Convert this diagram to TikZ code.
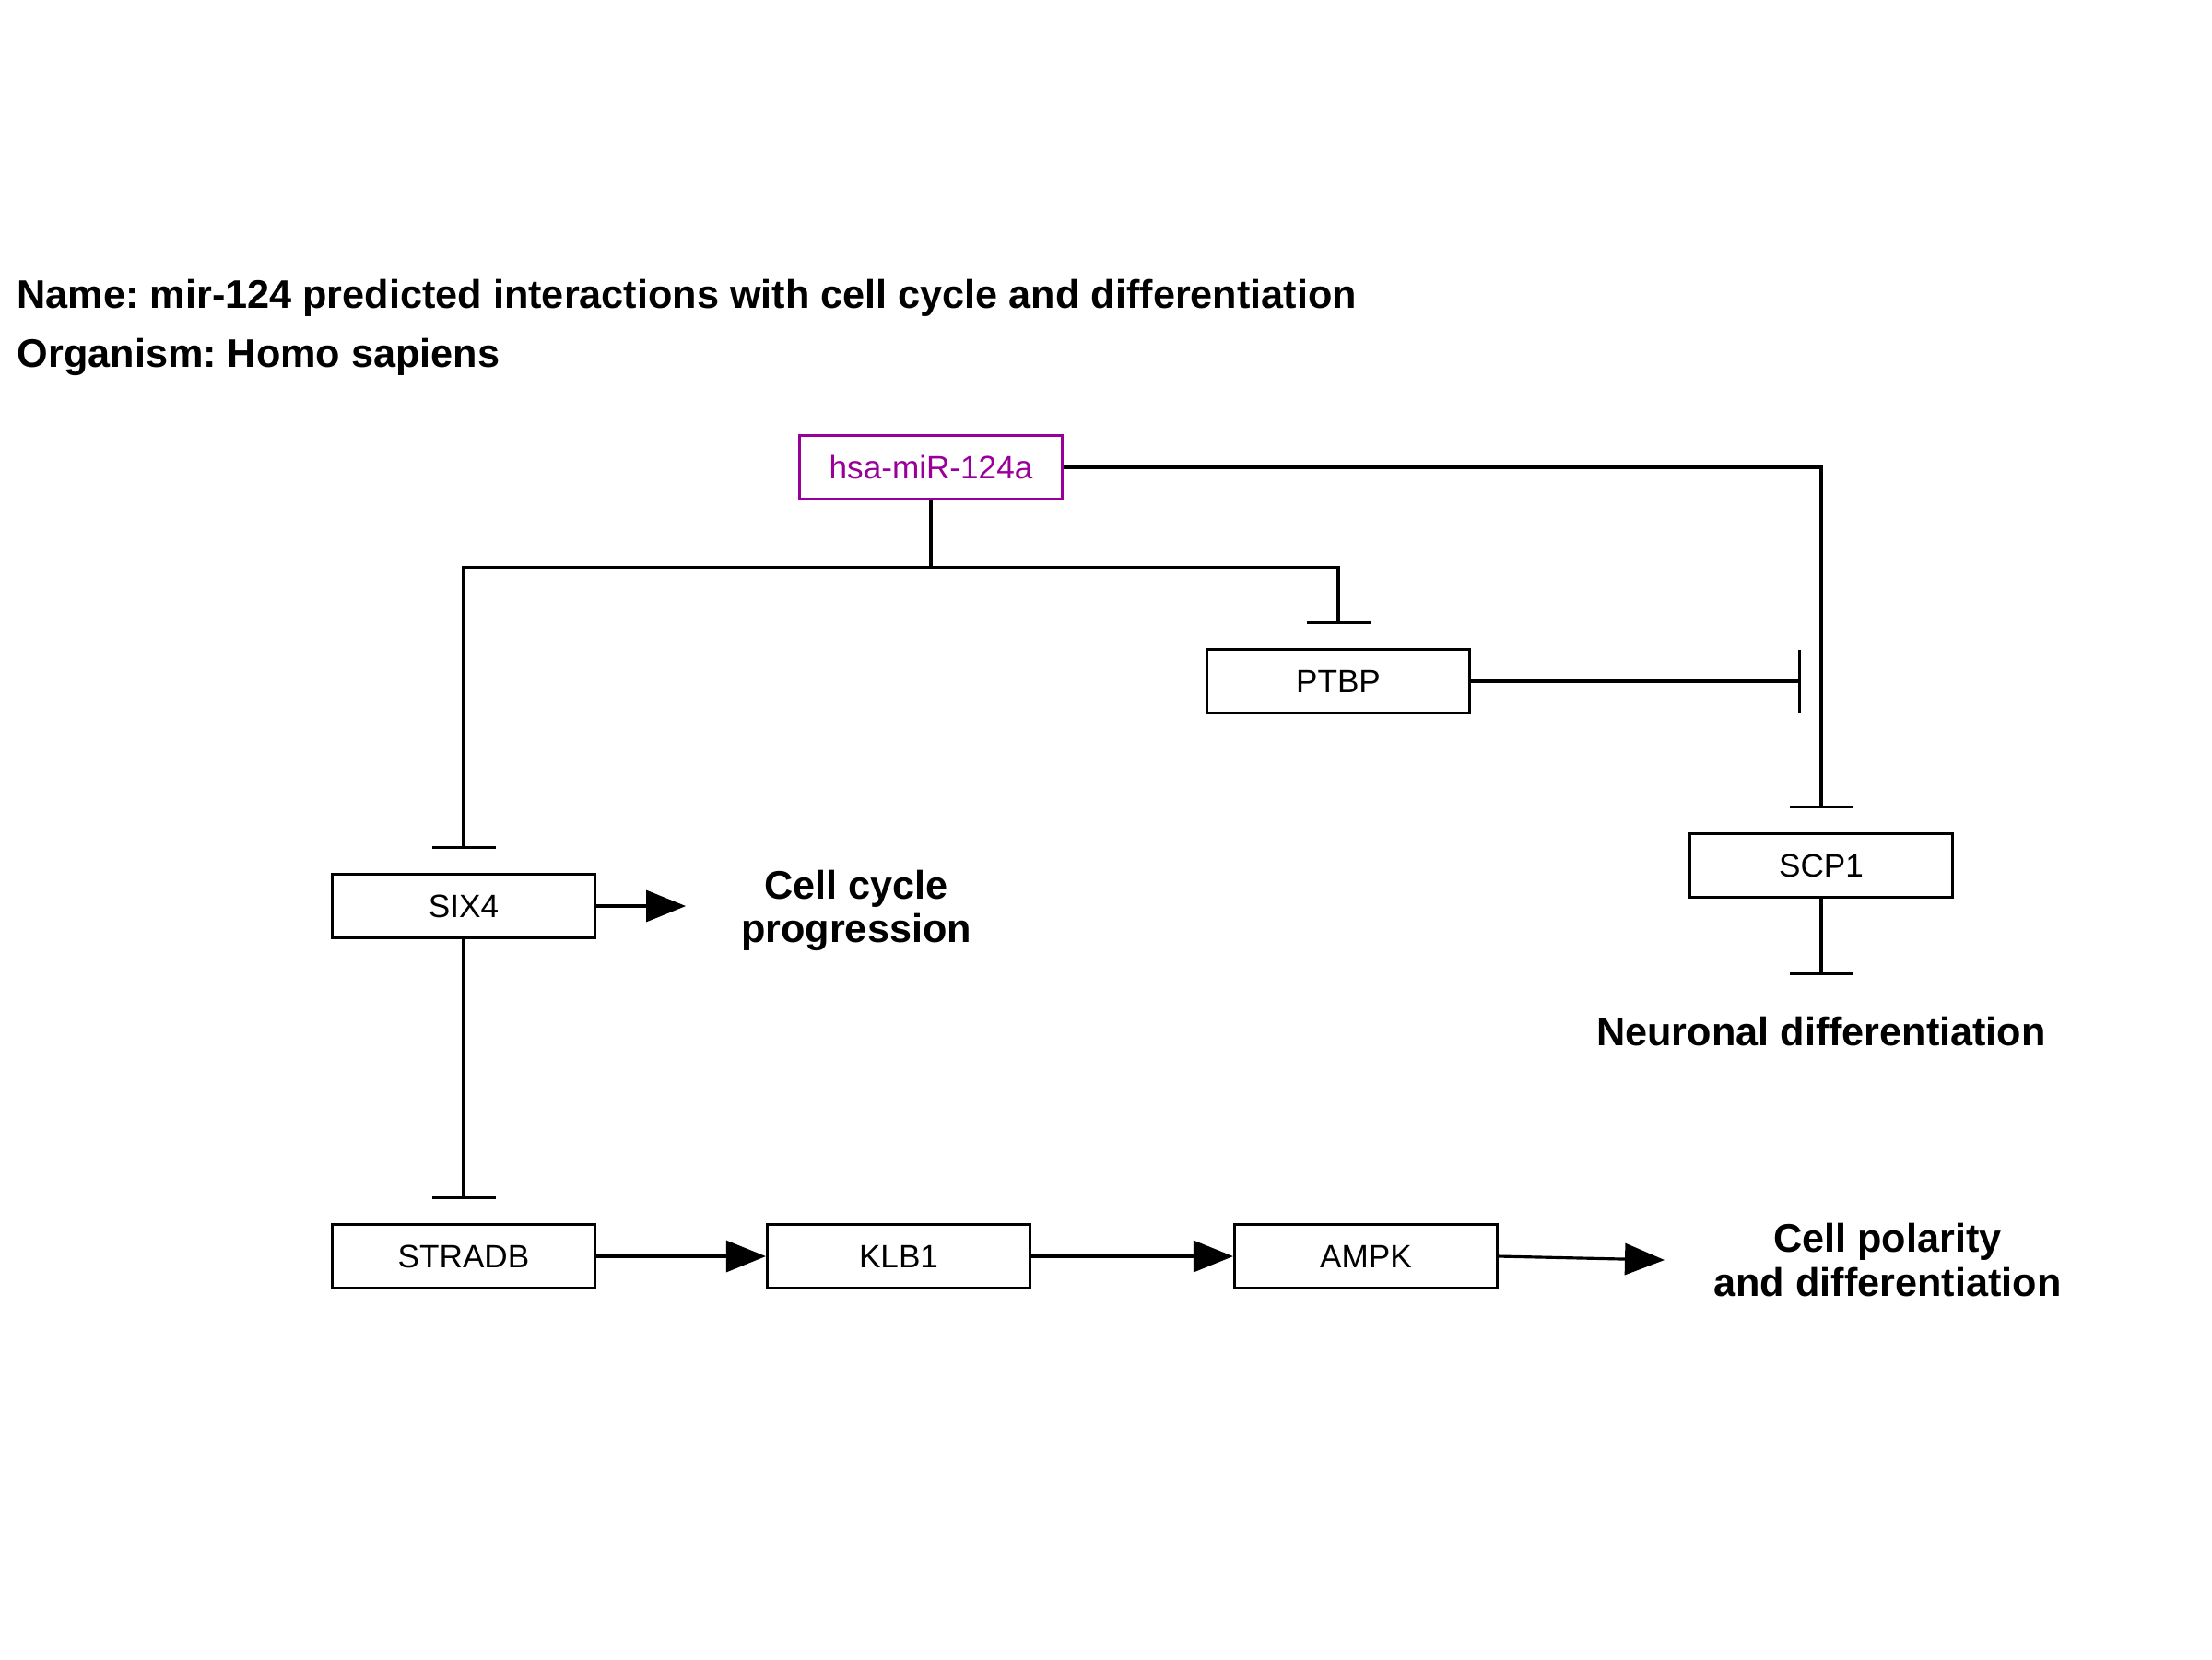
\documentclass[tikz,border=0pt]{standalone}
\usepackage{fontspec}
\setmainfont{Liberation Sans}
\usepackage{xcolor}
\usepackage{tikz}
\usetikzlibrary{arrows.meta, positioning, calc}
\definecolor{mirA}{HTML}{990099}
\frenchspacing
\tikzset{
  gene/.style={
    draw=black, fill=white, line width=0.9pt,
    minimum width=2.85cm, minimum height=0.69cm,
    inner sep=0pt, font=\fontsize{10}{12}\selectfont
  },
  mirna/.style={gene, draw=mirA, text=mirA},
  outcome/.style={align=center, font=\fontsize{12.3}{13.5}\selectfont\bfseries},
  title/.style={anchor=base west, inner sep=0pt, font=\fontsize{12.3}{14}\selectfont\bfseries},
  act/.style={-{Triangle[length=4.3mm, width=3.4mm]}, line width=0.9pt},
  inhib/.style={-{Bar[width=6.9mm]}, line width=0.9pt, shorten >=2.6mm}
}
\begin{document}
\begin{tikzpicture}
  \useasboundingbox (0,0) rectangle (24,-18);

  \node[title] (name) at (0.18,-3.34)
    {Name: mir-124 predicted interactions with cell cycle and differentiation};
  \node[title] (organism) at (0.18,-3.98) {Organism: Homo sapiens};

  \node[mirna] (mir) at (10.10,-5.07) {hsa-miR-124a};
  \node[gene] (ptbp) at (14.52,-7.39) {PTBP};
  \node[gene] (scp) at (19.76,-9.39) {SCP1};
  \node[gene] (six) at (5.03,-9.83) {SIX4};
  \node[gene] (stradb) at (5.03,-13.63) {STRADB};
  \node[gene] (klb) at (9.75,-13.63) {KLB1};
  \node[gene] (ampk) at (14.82,-13.63) {AMPK};

  \node[outcome] (cycle) at (9.29,-9.88) {Cell cycle\\progression};
  \node[outcome] (neuro) at (19.76,-11.19) {Neuronal differentiation};
  \node[outcome] (polar) at (20.48,-13.67) {Cell polarity\\and differentiation};

  \coordinate (split) at ($(mir.south)+(0,-0.72)$);
  \coordinate (ptbpend) at ($(ptbp.east)+(3.58,0)$);
  \coordinate (sixend) at ($(six.east)+(0.97,0)$);
  \coordinate (scpend) at ($(scp.south)+(0,-0.83)$);
  \coordinate (ampkend) at (18.06,-13.67);

  \draw[line width=0.9pt] (mir.south) -- (split);
  \draw[inhib] (split) -| (six.north);
  \draw[inhib] (split) -| (ptbp.north);
  \draw[inhib] (mir.east) -| (scp.north);
  \draw[-{Bar[width=6.9mm]}, line width=0.9pt] (ptbp.east) -- (ptbpend);
  \draw[-{Bar[width=6.9mm]}, line width=0.9pt] (scp.south) -- (scpend);
  \draw[act] (six.east) -- (sixend);
  \draw[inhib] (six.south) -- (stradb.north);
  \draw[act] (stradb) -- (klb);
  \draw[act] (klb) -- (ampk);
  \draw[act] (ampk.east) -- (ampkend);
\end{tikzpicture}
\end{document}
